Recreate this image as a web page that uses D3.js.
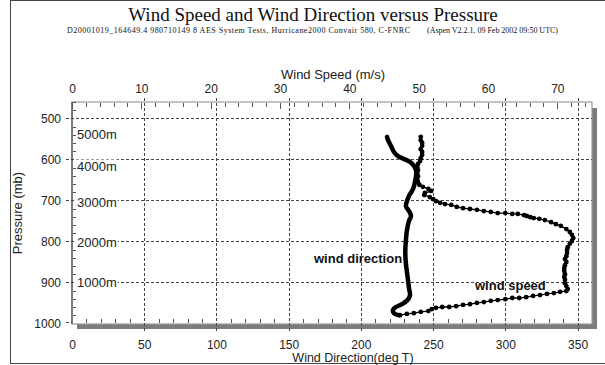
<!DOCTYPE html>
<html>
<head>
<meta charset="utf-8">
<script src="https://cdn.jsdelivr.net/npm/d3@7"></script>
<style>
  body { margin: 0; background: #fff; }
  svg { display: block; font-family: 'Liberation Sans', Arial, sans-serif; }
</style>
</head>
<body>
<div id="chart"></div>
<script>
// tick labels
const speedTicks = [0, 10, 20, 30, 40, 50, 60, 70];
const dirTicks = [0, 50, 100, 150, 200, 250, 300, 350];
const presTicks = [500, 600, 700, 800, 900, 1000];

// altitude markers (m) and the pressure level they sit on (mb)
const altLabels = ['5000m', '4000m', '3000m', '2000m', '1000m'];
const altPres = [540, 616, 704, 802, 899];

// wind speed (m/s) against pressure (mb)
const speedPres = [545, 553, 560, 567, 575, 582, 589, 597, 604, 611, 619, 626, 633, 641, 648, 655, 662, 667, 672, 677,
  682, 687, 692, 697, 702, 706, 709, 711, 716, 719, 721, 723, 726, 728, 731, 731, 733, 733, 736, 738,
  741, 743, 745, 748, 753, 758, 762, 770, 777, 784, 792, 799, 806, 814, 821, 828, 836, 843, 850, 858,
  865, 872, 880, 887, 894, 902, 909, 916, 921, 923, 926, 928, 931, 933, 936, 938, 938, 941, 943, 945,
  948, 950, 953, 955, 958, 960, 960, 962, 965, 970, 972, 975, 977, 980];
const speedVals = [50.3, 50.3, 50.5, 50.5, 50.3, 50.5, 50.5, 50.3, 50.2, 49.9, 49.8, 49.9, 49.8, 49.9, 49.8, 49.9, 50.1, 50.6, 51.4, 51.8,
  50.9, 50.8, 51.6, 52.1, 52.5, 53.1, 53.8, 54.7, 55.5, 56.4, 57.4, 58.4, 59.4, 60.4, 61.4, 62.5, 63.5, 64.3, 65.2, 65.6,
  66.1, 66.6, 67.4, 68.2, 69.1, 69.8, 70.5, 71.3, 71.8, 72.1, 72.3, 72.1, 71.8, 71.5, 71.4, 71.4, 71.3, 71.1, 71.3, 71.1,
  71.0, 71.0, 71.1, 71.0, 71.1, 71.1, 71.3, 71.5, 71.3, 70.4, 69.5, 68.5, 67.5, 66.5, 65.5, 64.5, 63.5, 62.5, 61.4, 60.4,
  59.4, 58.4, 57.4, 56.4, 55.4, 54.4, 53.4, 52.5, 51.9, 51.4, 50.3, 49.3, 48.3, 47.3];

// wind direction (deg T) against pressure (mb)
const dirPres = [545, 553, 563, 572, 582, 592, 599, 606, 616, 628, 641, 653, 665, 677, 689, 702, 714, 726, 738, 750,
  765, 780, 797, 816, 836, 855, 875, 894, 914, 931, 943, 953, 960, 967, 975, 980];
const dirVals = [218.1, 218.8, 220.2, 221.5, 222.9, 225.7, 229.8, 234.0, 236.8, 238.2, 238.2, 237.5, 236.8, 235.4, 233.3, 231.9, 231.2, 233.3, 234.7, 233.3,
  232.3, 231.6, 231.2, 230.8, 230.8, 231.2, 231.9, 232.6, 233.3, 234.0, 232.3, 228.5, 224.3, 222.2, 222.9, 226.4];

const W = 605, H = 365;
const pLeft = 72, pRight = 592, pTop = 102, pBottom = 324;

const svg = d3.select('#chart').append('svg')
  .attr('width', W)
  .attr('height', H);

// outer border
svg.append('rect')
  .attr('x', 10.5).attr('y', 0.5)
  .attr('width', 600).attr('height', 363)
  .attr('fill', 'none').attr('stroke', '#444');

// titles
svg.append('text')
  .attr('x', 313).attr('y', 21)
  .attr('text-anchor', 'middle')
  .style('font-family', "'Liberation Serif', 'Times New Roman', serif")
  .style('font-size', '19px')
  .attr('fill', '#111')
  .text('Wind Speed and Wind Direction versus Pressure');
svg.append('text')
  .attr('x', 67).attr('y', 33)
  .style('font-family', "'Liberation Serif', 'Times New Roman', serif")
  .style('font-size', '8px')
  .attr('textLength', 343)
  .attr('fill', '#111')
  .text('D20001019_164649.4 980710149 8 AES System Tests, Hurricane2000 Convair 580, C-FNRC');
svg.append('text')
  .attr('x', 427).attr('y', 33)
  .style('font-family', "'Liberation Serif', 'Times New Roman', serif")
  .style('font-size', '8px')
  .attr('textLength', 131)
  .attr('fill', '#111')
  .text('(Aspen V2.2.1, 09 Feb 2002  09:50 UTC)');

const xDir = d3.scaleLinear().domain([0, 360]).range([pLeft, pRight]);
const xSpd = d3.scaleLinear().domain([0, 75]).range([pLeft, pRight]);
const y = d3.scaleLinear().domain([500, 1000]).range([118.4, 323.4]);

// drop shadow of the frame
svg.append('rect')
  .attr('x', pLeft + 5).attr('y', pBottom)
  .attr('width', pRight - pLeft).attr('height', 5)
  .attr('fill', '#7c7c7c');
svg.append('rect')
  .attr('x', pRight).attr('y', pTop + 6)
  .attr('width', 5).attr('height', pBottom - pTop - 1)
  .attr('fill', '#7c7c7c');

// frame
svg.append('rect')
  .attr('x', pLeft).attr('y', pTop)
  .attr('width', pRight - pLeft).attr('height', pBottom - pTop)
  .attr('fill', '#fff').attr('stroke', '#9a9a9a').attr('stroke-width', 1.2);
svg.append('line')
  .attr('x1', pLeft).attr('x2', pLeft)
  .attr('y1', pTop).attr('y2', pBottom)
  .attr('stroke', '#333');

const grid = svg.append('g')
  .attr('stroke', '#444')
  .attr('stroke-width', 1)
  .attr('stroke-dasharray', '3,2');

// vertical grid (direction)
grid.selectAll('.vg')
  .data(dirTicks.filter(d => d > 0))
  .enter().append('line')
  .attr('class', 'vg')
  .attr('x1', d => Math.round(xDir(d)) + 0.5)
  .attr('x2', d => Math.round(xDir(d)) + 0.5)
  .attr('y1', pTop - 4).attr('y2', pBottom + 9);

// horizontal grid (pressure)
grid.selectAll('.hg')
  .data(presTicks.filter(d => d < 1000))
  .enter().append('line')
  .attr('class', 'hg')
  .attr('x1', pLeft - 6).attr('x2', pRight)
  .attr('y1', d => Math.round(y(d)) + 0.5)
  .attr('y2', d => Math.round(y(d)) + 0.5);
grid.append('line')
  .attr('x1', pLeft - 6).attr('x2', pLeft)
  .attr('y1', Math.round(y(1000)) - 0.5)
  .attr('y2', Math.round(y(1000)) - 0.5);

// minor ticks
const tk = svg.append('g').attr('stroke', '#555').attr('stroke-width', 1);
tk.selectAll('.ts')
  .data(d3.range(0, 75, 2))
  .enter().append('line')
  .attr('x1', d => Math.round(xSpd(d)) + 0.5)
  .attr('x2', d => Math.round(xSpd(d)) + 0.5)
  .attr('y1', pTop + 1)
  .attr('y2', d => pTop + (d % 10 === 0 ? 7 : 5));
tk.selectAll('.tb')
  .data(d3.range(10, 360, 10).filter(d => d % 50 !== 0))
  .enter().append('line')
  .attr('x1', d => Math.round(xDir(d)) + 0.5)
  .attr('x2', d => Math.round(xDir(d)) + 0.5)
  .attr('y1', pBottom - 1).attr('y2', pBottom - 5);
tk.selectAll('.tl')
  .data(d3.range(460, 1000, 20).filter(d => d % 100 !== 0))
  .enter().append('line')
  .attr('x1', pLeft + 1).attr('x2', pLeft + 4)
  .attr('y1', d => Math.round(y(d)) + 0.5)
  .attr('y2', d => Math.round(y(d)) + 0.5);

// axes labels via d3 axes
const fmt = d3.format('d');
const axTop = svg.append('g')
  .attr('transform', `translate(0,${pTop})`)
  .call(d3.axisTop(xSpd).tickValues(speedTicks).tickFormat(fmt).tickSize(0).tickPadding(9));
const axBot = svg.append('g')
  .attr('transform', `translate(0,${pBottom})`)
  .call(d3.axisBottom(xDir).tickValues(dirTicks).tickFormat(fmt).tickSize(0).tickPadding(16));
const axLeft = svg.append('g')
  .attr('transform', `translate(${pLeft},0)`)
  .call(d3.axisLeft(y).tickValues(presTicks).tickFormat(fmt).tickSize(0).tickPadding(11));
[axTop, axBot, axLeft].forEach(a => {
  a.select('.domain').remove();
  a.selectAll('text')
    .style('font-family', "'Liberation Sans', Arial, sans-serif")
    .style('font-size', '12px')
    .attr('fill', '#222');
});

// axis titles
svg.append('text')
  .attr('x', 333).attr('y', 79)
  .attr('text-anchor', 'middle')
  .style('font-size', '13px').attr('fill', '#222')
  .text('Wind Speed (m/s)');
svg.append('text')
  .attr('x', 353).attr('y', 361.5)
  .attr('text-anchor', 'middle')
  .style('font-size', '12.5px').attr('fill', '#222')
  .text('Wind Direction(deg T)');
svg.append('text')
  .attr('transform', 'translate(22,213) rotate(-90)')
  .attr('text-anchor', 'middle')
  .style('font-size', '13px').attr('fill', '#222')
  .text('Pressure (mb)');

// altitude labels on white
const alt = svg.append('g');
altLabels.forEach((t, i) => {
  const g = alt.append('g');
  const txt = g.append('text')
    .attr('x', 77).attr('y', y(altPres[i]))
    .attr('dy', '0.35em')
    .style('font-size', '13px').attr('fill', '#222')
    .text(t);
  const bb = txt.node().getBBox();
  g.insert('rect', 'text')
    .attr('x', bb.x - 1).attr('y', bb.y + 1)
    .attr('width', bb.width + 2).attr('height', bb.height - 2)
    .attr('fill', '#fff');
});

// wind direction curve
const dirData = dirPres.map((p, i) => ({ p, v: dirVals[i] }));
svg.append('path')
  .datum(dirData)
  .attr('fill', 'none')
  .attr('stroke', '#000')
  .attr('stroke-width', 4.5)
  .attr('stroke-linejoin', 'round')
  .attr('stroke-linecap', 'round')
  .attr('d', d3.line().x(d => xDir(d.v)).y(d => y(d.p)).curve(d3.curveCatmullRom));

// wind speed curve: thin line with dots
const spdData = speedPres.map((p, i) => ({ p, v: speedVals[i] }));
svg.append('path')
  .datum(spdData)
  .attr('fill', 'none')
  .attr('stroke', '#000')
  .attr('stroke-width', 1.3)
  .attr('d', d3.line().x(d => xSpd(d.v)).y(d => y(d.p)));
svg.selectAll('.sp')
  .data(spdData)
  .enter().append('circle')
  .attr('class', 'sp')
  .attr('cx', d => xSpd(d.v))
  .attr('cy', d => y(d.p))
  .attr('r', 2.4)
  .attr('fill', '#000');

// curve labels
svg.append('text')
  .attr('x', 314).attr('y', 263)
  .style('font-size', '13px').style('font-weight', 'bold')
  .attr('fill', '#111')
  .text('wind direction');
svg.append('text')
  .attr('x', 475).attr('y', 290)
  .style('font-size', '13px').style('font-weight', 'bold')
  .attr('fill', '#111')
  .text('wind speed');
</script>
</body>
</html>
